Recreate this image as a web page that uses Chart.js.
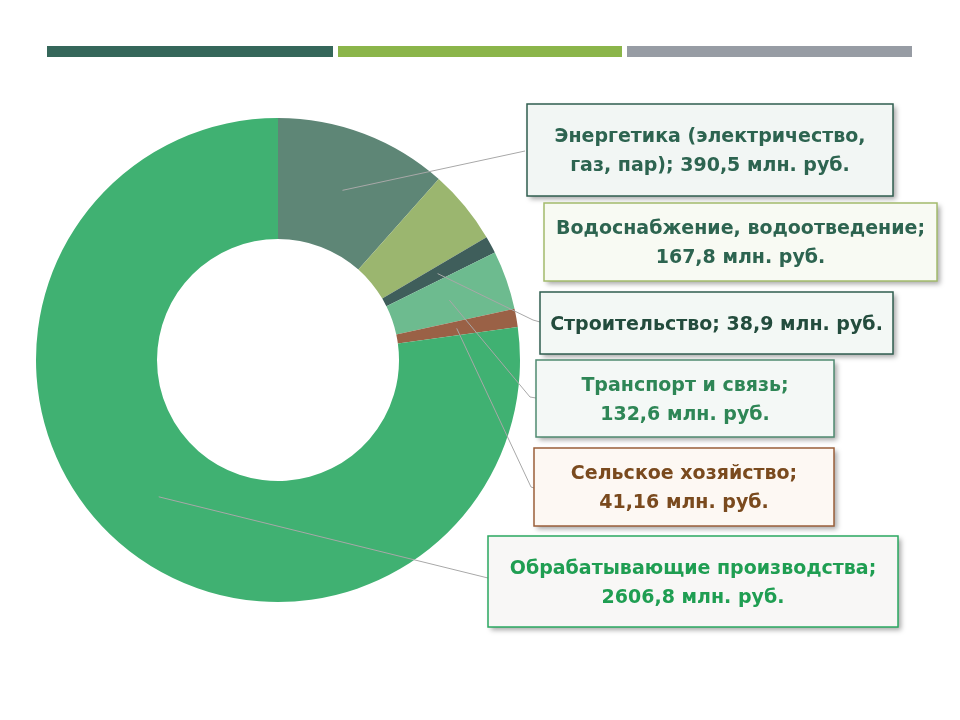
<!DOCTYPE html>
<html>
<head>
<meta charset="utf-8">
<script src="https://cdn.jsdelivr.net/npm/chart.js@4.4.0/dist/chart.umd.min.js"></script>
<style>
  body { margin: 0; background: #fff; }
  #myChart { display: block; }
</style>
</head>
<body>
<canvas id="myChart" width="960" height="720"></canvas>
<script>
// data
const sectors = ['Энергетика', 'Водоснабжение', 'Строительство', 'Транспорт и связь', 'Сельское хозяйство', 'Обрабатывающие производства'];
const values = [390.5, 167.8, 38.9, 132.6, 41.16, 2606.8];
const labelLines = [
    ['Энергетика (электричество,', 'газ, пар); 390,5 млн. руб.'],
    ['Водоснабжение, водоотведение;', '167,8 млн. руб.'],
    ['Строительство; 38,9 млн. руб.'],
    ['Транспорт и связь;', '132,6 млн. руб.'],
    ['Сельское хозяйство;', '41,16 млн. руб.'],
    ['Обрабатывающие производства;', '2606,8 млн. руб.']
];
const sliceColors = ['#5e8676', '#9bb66f', '#3f5e5b', '#6dbb8f', '#9a6146', '#40b172'];

// label boxes (layout only)
const boxes = [
    { x: 527, y: 104, w: 366, h: 92, border: '#2f5e4f', fill: '#f2f6f4', text: '#2d6450', line: [[525, 151]] },
    { x: 544, y: 203, w: 393, h: 78, border: '#a3bb6c', fill: '#f8faf3', text: '#2d6450', line: null },
    { x: 540, y: 292, w: 353, h: 62, border: '#2f5e4f', fill: '#f3f8f5', text: '#234c3d', line: [[533, 320], [540, 322]] },
    { x: 536, y: 360, w: 298, h: 77, border: '#4f8a70', fill: '#f4f8f6', text: '#2e8656', line: [[530, 397], [536, 398]] },
    { x: 534, y: 448, w: 300, h: 78, border: '#9a5f3a', fill: '#fdf8f3', text: '#7a4a1e', line: [[531, 487], [534, 488]] },
    { x: 488, y: 536, w: 410, h: 91, border: '#2aa860', fill: '#f8f7f6', text: '#1f9e52', line: [[488, 578]] }
];

const topBars = [
    { x: 47, w: 286, color: '#35675a' },
    { x: 338, w: 284, color: '#8bb54a' },
    { x: 627, w: 285, color: '#979ca4' }
];

const decorPlugin = {
    id: 'decor',
    beforeDraw(chart) {
        const ctx = chart.ctx;
        ctx.save();
        topBars.forEach(b => {
            ctx.fillStyle = b.color;
            ctx.fillRect(b.x, 46, b.w, 11);
        });
        ctx.restore();
    },
    afterDraw(chart) {
        const ctx = chart.ctx;
        const arcs = chart.getDatasetMeta(0).data;
        ctx.save();
        // callout lines
        ctx.strokeStyle = '#a8a8a8';
        ctx.lineWidth = 1;
        boxes.forEach((b, i) => {
            if (!b.line) return;
            const p = arcs[i].tooltipPosition();
            ctx.beginPath();
            ctx.moveTo(p.x, p.y);
            b.line.forEach(pt => ctx.lineTo(pt[0], pt[1]));
            ctx.stroke();
        });
        // boxes
        boxes.forEach((b, i) => {
            ctx.save();
            ctx.shadowColor = 'rgba(0,0,0,0.35)';
            ctx.shadowBlur = 5;
            ctx.shadowOffsetX = 3;
            ctx.shadowOffsetY = 3;
            ctx.fillStyle = b.fill;
            ctx.fillRect(b.x, b.y, b.w, b.h);
            ctx.restore();
            ctx.strokeStyle = b.border;
            ctx.lineWidth = 1.5;
            ctx.strokeRect(b.x, b.y, b.w, b.h);

            const lines = labelLines[i];
            ctx.fillStyle = b.text;
            ctx.font = 'bold 19px "DejaVu Sans"';
            ctx.textAlign = 'center';
            ctx.textBaseline = 'middle';
            const lh = 29;
            const cx = b.x + b.w / 2;
            const cy = b.y + b.h / 2 + 2;
            lines.forEach((t, k) => {
                ctx.fillText(t, cx, cy + (k - (lines.length - 1) / 2) * lh);
            });
        });
        ctx.restore();
    }
};

const myChart = new Chart(document.getElementById('myChart'), {
    type: 'doughnut',
    data: {
        labels: sectors,
        datasets: [{
            data: values,
            backgroundColor: sliceColors,
            borderWidth: 0
        }]
    },
    options: {
        responsive: false,
        animation: false,
        cutout: '50%',
        layout: {
            padding: { left: 36, top: 118, right: 440, bottom: 118 }
        },
        plugins: {
            legend: { display: false },
            tooltip: { enabled: false }
        }
    },
    plugins: [decorPlugin]
});
</script>
</body>
</html>
